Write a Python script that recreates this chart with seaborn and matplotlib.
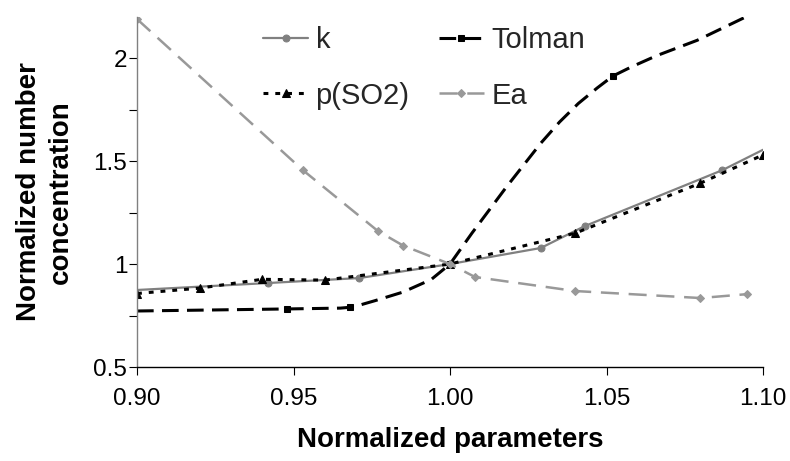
import matplotlib
matplotlib.use("Agg")
import matplotlib.pyplot as plt
import seaborn as sns
import pandas as pd
from matplotlib.ticker import FixedLocator, FuncFormatter

# ---- data ----
k_x = [0.900, 0.942, 0.971, 1.000, 1.029, 1.043, 1.087, 1.100]
k_y = [0.874, 0.908, 0.932, 1.000, 1.078, 1.184, 1.456, 1.555]
k_marked = [1, 2, 3, 4, 5, 6]

tol_x = [0.900, 0.948, 0.965, 0.968, 0.971, 0.976, 0.985, 0.994, 1.000,
         1.007, 1.018, 1.029, 1.035, 1.041, 1.047, 1.052, 1.058, 1.066,
         1.079, 1.095]
tol_y = [0.772, 0.782, 0.786, 0.790, 0.800, 0.822, 0.864, 0.925, 1.000,
         1.150, 1.374, 1.587, 1.690, 1.780, 1.855, 1.913, 1.958, 2.012,
         2.087, 2.204]
tol_marked = [1, 3, 8, 15]

p_x = [0.900, 0.920, 0.940, 0.960, 1.000, 1.040, 1.080, 1.100]
p_y = [0.857, 0.883, 0.926, 0.922, 1.000, 1.150, 1.393, 1.530]

ea_x = [0.900, 0.953, 0.977, 0.985, 1.000, 1.008, 1.040, 1.080, 1.095]
ea_y = [2.190, 1.456, 1.160, 1.090, 1.000, 0.937, 0.869, 0.835, 0.854]

x_ticks = [0.90, 0.95, 1.00, 1.05, 1.10]
y_ticks = [0.5, 0.75, 1.0, 1.25, 1.5, 1.75, 2.0]

sns.set_theme(style="white")
plt.rcParams["font.family"] = ["Liberation Sans", "DejaVu Sans"]
plt.rcParams["lines.scale_dashes"] = False

fig = plt.figure(figsize=(7.9, 4.61), dpi=100)
ax = fig.add_axes([137 / 790, 1 - 367 / 461, 626 / 790, 350 / 461])

GRAY_K = "#808080"
GRAY_EA = "#999999"

sns.lineplot(x=k_x, y=k_y, ax=ax, color=GRAY_K, linewidth=1.6, marker="o",
             markersize=5, markeredgecolor=GRAY_K, markerfacecolor=GRAY_K,
             markevery=k_marked, label="k", estimator=None, sort=False)
sns.lineplot(x=tol_x, y=tol_y, ax=ax, color="black", linewidth=2.2,
             linestyle=(0, (12, 6)), marker="s", markersize=4.5,
             markeredgecolor="black", markerfacecolor="black",
             markevery=tol_marked, label="Tolman", estimator=None, sort=False)
sns.lineplot(x=p_x, y=p_y, ax=ax, color="black", linewidth=2.2,
             linestyle=(0, (3.5, 5)), marker="^", markersize=6,
             markeredgecolor="black", markerfacecolor="black",
             label="p(SO2)", estimator=None, sort=False)
sns.lineplot(x=ea_x, y=ea_y, ax=ax, color=GRAY_EA, linewidth=1.8,
             linestyle=(0, (13, 7)), marker="D", markersize=4.5,
             markeredgecolor=GRAY_EA, markerfacecolor=GRAY_EA,
             label="Ea", estimator=None, sort=False)

ax.set_xlim(0.90, 1.10)
ax.set_ylim(0.5, 2.2)
ax.xaxis.set_major_locator(FixedLocator(x_ticks))
ax.xaxis.set_major_formatter(FuncFormatter(lambda v, p: f"{v:.2f}"))
ax.yaxis.set_major_locator(FixedLocator(y_ticks))
ax.yaxis.set_major_formatter(
    FuncFormatter(lambda v, p: f"{v:g}" if abs(v * 2 - round(v * 2)) < 1e-9 else ""))

for side in ("top", "right"):
    ax.spines[side].set_visible(False)
ax.spines["left"].set_color(GRAY_K)
ax.spines["left"].set_linewidth(1.0)
ax.spines["bottom"].set_color("black")
ax.spines["bottom"].set_linewidth(1.0)

ax.tick_params(axis="x", bottom=True, direction="out", length=6, width=0.8,
               color="black", labelsize=17.5, pad=9, labelcolor="black")
ax.tick_params(axis="y", left=True, direction="out", length=6, width=0.8,
               color="black", labelsize=17.5, pad=1, labelcolor="black")

ax.set_xlabel("Normalized parameters", fontsize=20, fontweight="bold",
              color="black", labelpad=12)
ax.set_ylabel("Normalized number\nconcentration", fontsize=20,
              fontweight="bold", color="black", va="center", ha="center",
              linespacing=1.25)
ax.yaxis.set_label_coords(-0.147, 0.5)

handles, labels = ax.get_legend_handles_labels()
order = [labels.index(n) for n in ["k", "p(SO2)", "Tolman", "Ea"]]
ax.legend([handles[i] for i in order], [labels[i] for i in order],
          ncol=2, loc="upper left", bbox_to_anchor=(263 / 790, 1 - 26 / 461),
          bbox_transform=fig.transFigure, frameon=False, fontsize=21,
          handlelength=1.55, handletextpad=0.25, columnspacing=1.0,
          labelspacing=0.95, borderpad=0, borderaxespad=0, numpoints=1)

fig.savefig("out.png", dpi=100)
